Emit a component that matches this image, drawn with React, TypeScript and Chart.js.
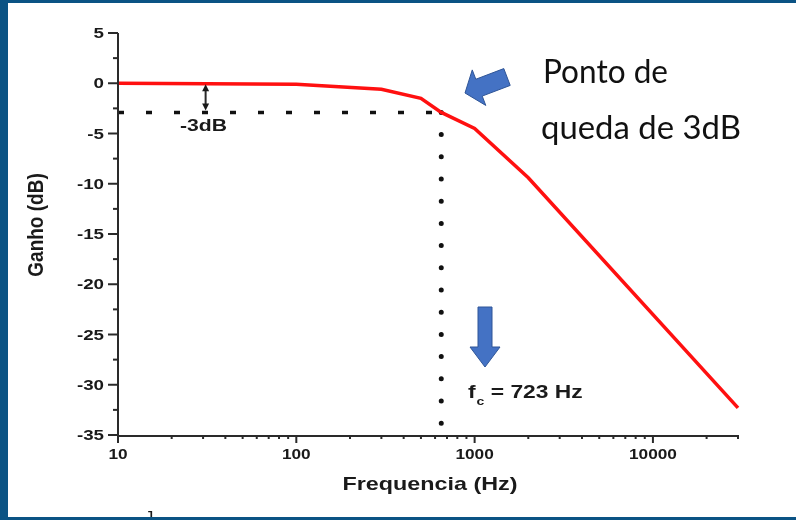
import React, { useEffect, useRef } from "react";
import { Chart, registerables } from "chart.js";

Chart.register(...registerables);

// ---- data ----
const frequencies = [10, 100, 300, 500, 650, 1000, 2000, 30000];
const gainDb = [0, -0.1, -0.6, -1.5, -2.9, -4.5, -9.4, -32.3];
const cutoffFreq = 650;
const cutoffGain = -2.9;

const xMin = 10;
const xMax = 30000;
const yMin = -35;
const yMax = 5;

const xTickValues = [10, 100, 1000, 10000];
const xTickLabels = ["10", "100", "1000", "10000"];
const xMinorTickValues = [
  20, 30, 40, 50, 60, 70, 80, 90,
  200, 300, 400, 500, 600, 700, 800, 900,
  2000, 3000, 4000, 5000, 6000, 7000, 8000, 9000,
  20000, 30000,
];
const yTickValues = [5, 0, -5, -10, -15, -20, -25, -30, -35];
const yTickLabels = ["5", "0", "-5", "-10", "-15", "-20", "-25", "-30", "-35"];
const yMinorTickValues = [2.5, -2.5, -7.5, -12.5, -17.5, -22.5, -27.5, -32.5];

const xTitle = "Frequencia (Hz)";
const yTitle = "Ganho (dB)";
const noteLine1 = "Ponto de";
const noteLine2 = "queda de 3dB";
const dbNote = "-3dB";
const fcMain = "f";
const fcSub = "c";
const fcRest = " = 723 Hz";

const FRAME_BLUE = "#0b5384";
const INK = "#1a1a1a";
const ARIAL = '"Liberation Sans", Arial, sans-serif';
const CALIBRI = 'Lato, "Open Sans", sans-serif';

function drawScaledText(
  ctx: CanvasRenderingContext2D,
  text: string,
  x: number,
  y: number,
  font: string,
  align: CanvasTextAlign,
  sx: number,
  baseline: CanvasTextBaseline = "alphabetic"
) {
  ctx.save();
  ctx.font = font;
  ctx.translate(x, y);
  ctx.scale(sx, 1);
  ctx.textAlign = align;
  ctx.textBaseline = baseline;
  ctx.fillText(text, 0, 0);
  ctx.restore();
}

function fitSx(ctx: CanvasRenderingContext2D, text: string, font: string, width: number) {
  ctx.save();
  ctx.font = font;
  const w = ctx.measureText(text).width;
  ctx.restore();
  return width / w;
}

function blockArrow(
  ctx: CanvasRenderingContext2D,
  tx: number,
  ty: number,
  px: number,
  py: number,
  shaftHalf: number,
  headHalf: number,
  headLen: number
) {
  const len = Math.hypot(px - tx, py - ty);
  const dx = (px - tx) / len;
  const dy = (py - ty) / len;
  const nx = -dy;
  const ny = dx;
  const hx = px - dx * headLen;
  const hy = py - dy * headLen;
  ctx.save();
  ctx.beginPath();
  ctx.moveTo(tx + nx * shaftHalf, ty + ny * shaftHalf);
  ctx.lineTo(hx + nx * shaftHalf, hy + ny * shaftHalf);
  ctx.lineTo(hx + nx * headHalf, hy + ny * headHalf);
  ctx.lineTo(px, py);
  ctx.lineTo(hx - nx * headHalf, hy - ny * headHalf);
  ctx.lineTo(hx - nx * shaftHalf, hy - ny * shaftHalf);
  ctx.lineTo(tx - nx * shaftHalf, ty - ny * shaftHalf);
  ctx.closePath();
  ctx.fillStyle = "#4472c4";
  ctx.fill();
  ctx.strokeStyle = "#2f5597";
  ctx.lineWidth = 1;
  ctx.stroke();
  ctx.restore();
}

const framePlugin = {
  id: "frame",
  beforeDraw(chart: any) {
    const ctx: CanvasRenderingContext2D = chart.ctx;
    ctx.save();
    ctx.fillStyle = FRAME_BLUE;
    ctx.fillRect(0, 0, chart.width, chart.height);
    ctx.fillStyle = "#ffffff";
    ctx.fillRect(8, 3, chart.width - 8, chart.height - 6);
    ctx.restore();
  },
  afterDraw(chart: any) {
    const ctx: CanvasRenderingContext2D = chart.ctx;
    const xs = chart.scales.x;
    const ys = chart.scales.y;
    const area = chart.chartArea;
    const left = area.left;
    const bottom = area.bottom;

    ctx.save();
    ctx.strokeStyle = "#2a2a2a";
    ctx.fillStyle = INK;

    // axis lines
    ctx.lineWidth = 2;
    ctx.beginPath();
    ctx.moveTo(left, ys.getPixelForValue(yMax));
    ctx.lineTo(left, bottom + 1);
    ctx.lineTo(xs.getPixelForValue(xMax) + 1, bottom + 1);
    ctx.stroke();

    // y ticks
    ctx.lineWidth = 2;
    for (const v of yTickValues) {
      const py = ys.getPixelForValue(v);
      ctx.beginPath();
      ctx.moveTo(left - 10, py);
      ctx.lineTo(left, py);
      ctx.stroke();
    }
    for (const v of yMinorTickValues) {
      const py = ys.getPixelForValue(v);
      ctx.beginPath();
      ctx.moveTo(left - 5, py);
      ctx.lineTo(left, py);
      ctx.stroke();
    }
    // x ticks
    for (const v of xTickValues) {
      const px = xs.getPixelForValue(v);
      ctx.beginPath();
      ctx.moveTo(px, bottom);
      ctx.lineTo(px, bottom + 8);
      ctx.stroke();
    }
    for (const v of xMinorTickValues) {
      const px = xs.getPixelForValue(v);
      ctx.beginPath();
      ctx.moveTo(px, bottom);
      ctx.lineTo(px, bottom + 4);
      ctx.stroke();
    }

    // tick labels
    const tickFont = `bold 15px ${ARIAL}`;
    yTickValues.forEach((v, i) => {
      drawScaledText(ctx, yTickLabels[i], left - 14, ys.getPixelForValue(v) + 1, tickFont, "right", 1.25, "middle");
    });
    xTickValues.forEach((v, i) => {
      drawScaledText(ctx, xTickLabels[i], xs.getPixelForValue(v), bottom + 24, tickFont, "center", 1.15);
    });

    // axis titles
    const titleFont = `bold 19px ${ARIAL}`;
    drawScaledText(ctx, xTitle, 430, 490, titleFont, "center", fitSx(ctx, xTitle, titleFont, 175));
    ctx.save();
    ctx.font = titleFont;
    ctx.translate(37, 225);
    ctx.scale(1.2, 1);
    ctx.rotate(-Math.PI / 2);
    ctx.textAlign = "center";
    ctx.textBaseline = "middle";
    ctx.fillText(yTitle, 0, 0);
    ctx.restore();

    // -3dB marker arrow
    const ax = xs.getPixelForValue(31);
    const aTop = ys.getPixelForValue(0) + 1;
    const aBot = ys.getPixelForValue(cutoffGain) - 2;
    ctx.lineWidth = 2;
    ctx.beginPath();
    ctx.moveTo(ax, aTop + 4);
    ctx.lineTo(ax, aBot - 4);
    ctx.stroke();
    ctx.beginPath();
    ctx.moveTo(ax, aTop);
    ctx.lineTo(ax - 3.5, aTop + 7);
    ctx.lineTo(ax + 3.5, aTop + 7);
    ctx.closePath();
    ctx.fill();
    ctx.beginPath();
    ctx.moveTo(ax, aBot);
    ctx.lineTo(ax - 3.5, aBot - 7);
    ctx.lineTo(ax + 3.5, aBot - 7);
    ctx.closePath();
    ctx.fill();
    const dbFont = `bold 16px ${ARIAL}`;
    drawScaledText(ctx, dbNote, 180, 131, dbFont, "left", fitSx(ctx, dbNote, dbFont, 47));

    // fc label
    const fcFont = `bold 18px ${ARIAL}`;
    const subFont = `bold 11px ${ARIAL}`;
    ctx.font = fcFont;
    const wF = ctx.measureText(fcMain).width;
    const wR = ctx.measureText(fcRest).width;
    ctx.font = subFont;
    const wS = ctx.measureText(fcSub).width;
    const fsx = 115 / (wF + wS + wR + 1);
    let cx = 468;
    drawScaledText(ctx, fcMain, cx, 398, fcFont, "left", fsx);
    cx += wF * fsx + 1;
    drawScaledText(ctx, fcSub, cx, 405, subFont, "left", fsx);
    cx += wS * fsx;
    drawScaledText(ctx, fcRest, cx, 398, fcFont, "left", fsx);

    // "Ponto de queda de 3dB" note
    ctx.fillStyle = "#111111";
    const noteFont = `32px ${CALIBRI}`;
    drawScaledText(ctx, noteLine1, 543, 83, noteFont, "left", fitSx(ctx, noteLine1, noteFont, 125));
    drawScaledText(ctx, noteLine2, 541, 139, noteFont, "left", fitSx(ctx, noteLine2, noteFont, 200));

    // blue arrows
    blockArrow(ctx, 507, 77, 465, 93, 9, 19, 15);
    blockArrow(ctx, 485, 307, 485, 367, 7, 15, 20);

    // stray bracket at the bottom edge
    ctx.fillStyle = INK;
    drawScaledText(ctx, "]", 148, 526, `20px ${ARIAL}`, "left", 1);

    // bottom frame strip
    ctx.fillStyle = FRAME_BLUE;
    ctx.fillRect(0, chart.height - 3, chart.width, 3);
    ctx.restore();
  },
};

export default function App() {
  const canvasRef = useRef<HTMLCanvasElement | null>(null);

  useEffect(() => {
    document.body.style.margin = "0";
    const canvas = canvasRef.current;
    if (!canvas) return;
    const chart = new Chart(canvas, {
      type: "line",
      data: {
        datasets: [
          {
            label: "Ganho",
            data: frequencies.map((f, i) => ({ x: f, y: gainDb[i] })),
            borderColor: "#ff1010",
            borderWidth: 3.5,
            pointRadius: 0,
            tension: 0,
            order: 0,
            clip: false,
          },
          {
            label: "-3dB",
            data: [
              { x: xMin, y: cutoffGain },
              { x: cutoffFreq, y: cutoffGain },
            ],
            borderColor: "#111111",
            borderWidth: 3.5,
            borderDash: [6, 22],
            pointRadius: 0,
            order: 1,
            clip: false,
          },
          {
            label: "fc",
            data: [
              { x: cutoffFreq, y: cutoffGain },
              { x: cutoffFreq, y: yMin },
            ],
            borderColor: "#111111",
            borderWidth: 5,
            borderDash: [0, 22.2],
            borderCapStyle: "round",
            pointRadius: 0,
            order: 1,
            clip: false,
          },
        ] as any,
      },
      options: {
        responsive: false,
        devicePixelRatio: 1,
        animation: false,
        parsing: false as any,
        layout: { padding: { left: 118, top: 33, right: 58, bottom: 85 } },
        plugins: {
          legend: { display: false },
          tooltip: { enabled: false },
          title: { display: false },
        },
        scales: {
          x: { type: "logarithmic", min: xMin, max: xMax, display: false },
          y: { type: "linear", min: yMin, max: yMax, display: false },
        },
      },
      plugins: [framePlugin],
    });
    return () => chart.destroy();
  }, []);

  return (
    <canvas
      ref={canvasRef}
      width={796}
      height={520}
      style={{ display: "block", width: 796, height: 520 }}
    />
  );
}
